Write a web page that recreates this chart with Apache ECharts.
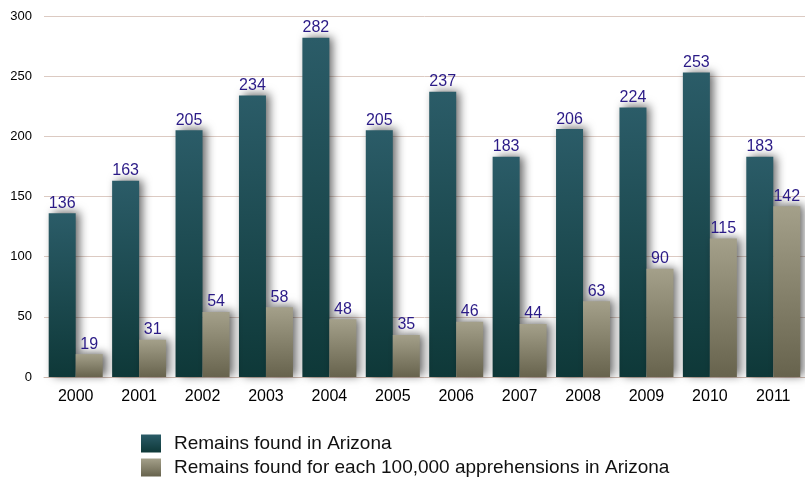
<!DOCTYPE html>
<html>
<head>
<meta charset="utf-8">
<script src="https://cdn.jsdelivr.net/npm/echarts@6/dist/echarts.min.js"></script>
<style>
  html, body { margin: 0; padding: 0; background: #fff; }
  #chart { width: 805px; height: 481px; }
</style>
</head>
<body>
<div id="chart"></div>
<script>
// data
const years = ['2000', '2001', '2002', '2003', '2004', '2005', '2006', '2007', '2008', '2009', '2010', '2011'];
const remainsFound = [136, 163, 205, 234, 282, 205, 237, 183, 206, 224, 253, 183];
const remainsPer100k = [19, 31, 54, 58, 48, 35, 46, 44, 63, 90, 115, 142];
const seriesNames = ['Remains found in Arizona', 'Remains found for each 100,000 apprehensions in Arizona'];

const chart = echarts.init(document.getElementById('chart'));

// gradient fills for the two bar colours
const tealFill = new echarts.graphic.LinearGradient(0, 0, 0, 1, [
    {offset: 0, color: '#2b5c68'},
    {offset: 1, color: '#0e3838'}
]);
const khakiFill = new echarts.graphic.LinearGradient(0, 0, 0, 1, [
    {offset: 0, color: '#a4a08a'},
    {offset: 1, color: '#67634d'}
]);

const barLabel = {
    show: true,
    position: 'top',
    distance: 2,
    color: '#2a1a86',
    fontFamily: 'Liberation Sans',
    fontSize: 16
};

// one legend block per row, stacked under the plot
const legendRow = (name, top) => ({
    left: 141,
    top: top,
    padding: 0,
    itemWidth: 20,
    itemHeight: 18,
    icon: 'rect',
    textStyle: {fontFamily: 'Liberation Sans', fontSize: 19, color: '#111', padding: [0, 0, 0, 8]},
    data: [name]
});

const option = {
    animation: false,
    grid: {left: 44, right: -9, top: 16, bottom: 104},
    legend: [
        legendRow(seriesNames[0], 434),
        legendRow(seriesNames[1], 458)
    ],
    xAxis: {
        type: 'category',
        data: years,
        axisLine: {lineStyle: {color: '#cdb8ae'}},
        axisTick: {show: false},
        axisLabel: {color: '#000', fontFamily: 'Liberation Sans', fontSize: 16, margin: 12}
    },
    yAxis: {
        type: 'value',
        min: 0,
        max: 300,
        interval: 50,
        axisLine: {show: false},
        axisTick: {show: false},
        splitLine: {lineStyle: {color: '#dccac2'}},
        axisLabel: {color: '#000', fontFamily: 'Liberation Sans', fontSize: 13, margin: 12}
    },
    series: [
        {
            name: seriesNames[0],
            type: 'bar',
            data: remainsFound,
            barWidth: 27,
            barGap: '0%',
            itemStyle: {
                color: tealFill,
                shadowColor: 'rgba(0,0,0,0.6)',
                shadowBlur: 9,
                shadowOffsetX: 4,
                shadowOffsetY: -1
            },
            label: barLabel
        },
        {
            name: seriesNames[1],
            type: 'bar',
            data: remainsPer100k,
            barWidth: 27,
            itemStyle: {
                color: khakiFill,
                shadowColor: 'rgba(0,0,0,0.6)',
                shadowBlur: 9,
                shadowOffsetX: 4,
                shadowOffsetY: -1
            },
            label: barLabel
        }
    ]
};

chart.setOption(option);
</script>
</body>
</html>
